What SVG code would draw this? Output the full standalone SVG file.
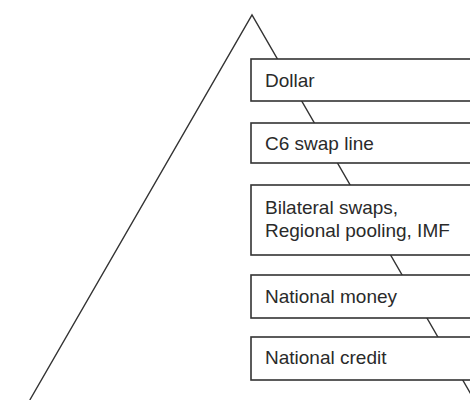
<svg xmlns="http://www.w3.org/2000/svg" width="470" height="400" viewBox="0 0 470 400">
<style>
.box{fill:#fff;stroke:#333;stroke-width:1.6}
.t{font-family:"Liberation Sans",Arial,sans-serif;font-size:19px;fill:#2a2a2a}
.edge{fill:none;stroke:#333;stroke-width:1.4}
</style>
<rect width="470" height="400" fill="#fff"/>
<g id="connectors">
<path class="edge" d="M29.8,400 L252,15 L474.3,400"/>
</g>
<g id="dollar"><rect class="box" x="251" y="59" width="230" height="42"/><text class="t" x="265" y="87">Dollar</text></g>
<g id="c6"><rect class="box" x="251" y="123" width="230" height="40"/><text class="t" x="265" y="150">C6 swap line</text></g>
<g id="bilateral"><rect class="box" x="251" y="185" width="230" height="70"/><text class="t" x="265" y="214">Bilateral swaps,</text><text class="t" x="265" y="237">Regional pooling, IMF</text></g>
<g id="money"><rect class="box" x="251" y="275" width="230" height="43"/><text class="t" x="265" y="303">National money</text></g>
<g id="credit"><rect class="box" x="251" y="337" width="230" height="43"/><text class="t" x="265" y="364">National credit</text></g>
</svg>
